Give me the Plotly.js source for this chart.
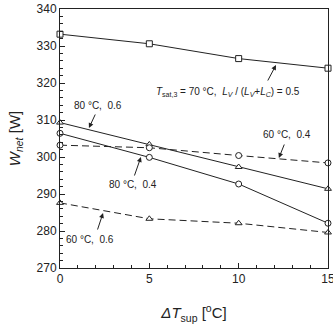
<!DOCTYPE html>
<html><head><meta charset="utf-8">
<script src="https://cdn.plot.ly/plotly-3.0.1.min.js"></script>
<style>html,body{margin:0;padding:0;background:#fff;}#chart{width:333px;height:324px;}</style>
</head><body><div id="chart"></div>
<script>
const dT = [0, 5, 10, 15];
const w70_05 = [333.2, 330.6, 326.6, 324.0];
const w80_06 = [309.3, 303.4, 297.3, 291.4];
const w80_04 = [306.4, 299.9, 292.7, 282.1];
const w60_04 = [303.2, 302.5, 300.4, 298.4];
const w60_06 = [287.6, 283.3, 282.1, 279.6];

const lc = '#222';
function tr(y, sym, dash) {
  return {x: dT, y: y, type: 'scatter', mode: 'lines+markers', cliponaxis: false,
    line: {color: lc, width: 1, dash: dash},
    marker: {symbol: sym, size: 6, color: '#fff', line: {color: lc, width: 1}},
    showlegend: false};
}
const data = [
  tr(w70_05, 'square', 'solid'),
  tr(w80_06, 'triangle-up', 'solid'),
  tr(w80_04, 'circle', 'solid'),
  tr(w60_04, 'circle', '7px,4px'),
  tr(w60_06, 'triangle-up', '7px,4px')
];

const af = {family: 'Liberation Sans, Arial, sans-serif', size: 10, color: '#222'};
function arrow(x, y, ax, ay) {
  return {x: x, y: y, ax: ax, ay: ay, text: ' ', font: {size: 2}, borderpad: 0, showarrow: true,
    arrowhead: 2, arrowsize: 1, arrowwidth: 1, arrowcolor: lc};
}
function label(x, y, t) {
  return {x: x, y: y, text: t, showarrow: false, font: af};
}
const annotations = [
  arrow(12.09, 324.86, -9, 17),
  label(9.4, 317.6, '<i>T</i><sub>sat,3</sub> = 70 °C,  <i>L</i><sub><i>V</i></sub> / (<i>L</i><sub><i>V</i></sub>+<i>L</i><sub><i>C</i></sub>) = 0.5'),
  arrow(1.62, 307.84, 7, -15),
  label(2.13, 314.05, '80 °C,  0.6'),
  arrow(4.53, 300.0, -7, 20),
  label(4.08, 292.7, '80 °C,  0.4'),
  arrow(12.25, 299.73, 6, -15),
  label(12.7, 305.95, '60 °C,  0.4'),
  arrow(2.41, 284.86, -6, 18),
  label(1.68, 277.57, '60 °C,  0.6')
];

const tf = {family: 'Liberation Sans, Arial, sans-serif', size: 12, color: '#222'};
const layout = {
  width: 333, height: 324,
  margin: {l: 60, r: 5, t: 9, b: 56},
  paper_bgcolor: '#fff', plot_bgcolor: '#fff',
  font: tf,
  xaxis: {range: [0, 15], tickvals: [0, 5, 10, 15], ticks: 'inside', ticklen: 5, tickcolor: lc,
    minor: {dtick: 1, ticks: 'inside', ticklen: 3, tickcolor: lc},
    showline: true, linecolor: lc, linewidth: 1, mirror: true, showgrid: false, zeroline: false,
    tickfont: tf, ticklabeloverflow: 'allow',
    title: {text: '<i>ΔT</i><sub>sup</sub> [<sup>o</sup>C]', font: {family: 'Liberation Sans, Arial, sans-serif', size: 15, color: '#222'}, standoff: 22}},
  yaxis: {range: [270, 340], dtick: 10, ticks: 'inside', ticklen: 5, tickcolor: lc,
    minor: {dtick: 2, ticks: 'inside', ticklen: 3, tickcolor: lc},
    showline: true, linecolor: lc, linewidth: 1, mirror: true, showgrid: false, zeroline: false,
    tickfont: tf,
    title: {text: '<i>W</i><sub><i>net</i></sub> [W]', font: {family: 'Liberation Sans, Arial, sans-serif', size: 15, color: '#222'}, standoff: 12}},
  annotations: annotations
};
Plotly.newPlot('chart', data, layout, {displayModeBar: false, staticPlot: true});
</script></body></html>
